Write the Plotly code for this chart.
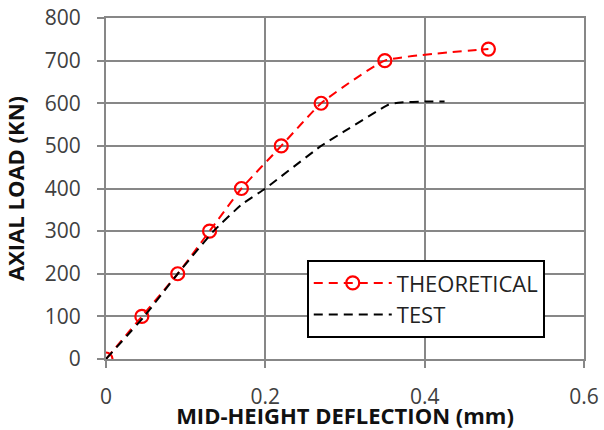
import plotly.graph_objects as go

theo_x = [0, 0.045, 0.09, 0.13, 0.17, 0.22, 0.27, 0.35, 0.48]
theo_y = [0, 100, 200, 300, 400, 500, 600, 700, 727]

test_x = [0, 0.048, 0.09, 0.135, 0.17, 0.2, 0.27, 0.3, 0.355, 0.37, 0.4, 0.425]
test_y = [0, 100, 200, 300, 362, 400, 500, 535, 597, 602, 604, 604]

x_ticks = [0, 0.2, 0.4, 0.6]
x_labels = ["0", "0.2", "0.4", "0.6"]
y_ticks = [0, 100, 200, 300, 400, 500, 600, 700, 800]

fig = go.Figure()
fig.add_trace(go.Scatter(
    x=theo_x, y=theo_y, name="THEORETICAL", mode="lines+markers",
    line=dict(color="#ff0000", width=2, dash="9px,6px", shape="spline", smoothing=0.4),
    marker=dict(symbol="circle-open", size=13, color="#ff0000", line=dict(width=2.2)),
))
fig.add_trace(go.Scatter(
    x=test_x, y=test_y, name="TEST", mode="lines",
    line=dict(color="#000000", width=2, dash="9px,6px", shape="spline", smoothing=0.4),
))

grid = "#878787"
fig.update_layout(
    width=604, height=430,
    margin=dict(l=106, r=20, t=18, b=71, autoexpand=False),
    paper_bgcolor="white", plot_bgcolor="white",
    font=dict(family="Open Sans, Liberation Sans, sans-serif", color="#404040", size=21),
    showlegend=True,
    legend=dict(
        x=0.42, y=0.29, xanchor="left", yanchor="top",
        bgcolor="white", bordercolor="black", borderwidth=2,
        font=dict(size=22, color="#222222"),
        tracegroupgap=0, itemwidth=78,
    ),
    xaxis=dict(
        range=[0, 0.6], tickvals=x_ticks, ticktext=x_labels,
        automargin=False, ticklabeloverflow="allow",
        showgrid=True, gridcolor=grid, gridwidth=2,
        showline=True, linecolor=grid, linewidth=2, mirror=True,
        ticks="outside", ticklen=7, tickcolor=grid, tickwidth=2,
        ticklabelstandoff=11,
        zeroline=False,
        title=dict(text="<b>MID-HEIGHT DEFLECTION (mm)</b>", standoff=9,
                   font=dict(size=22, color="#111111")),
    ),
    yaxis=dict(
        range=[0, 800], tickvals=y_ticks,
        automargin=False, ticklabeloverflow="allow",
        showgrid=True, gridcolor=grid, gridwidth=2,
        showline=True, linecolor=grid, linewidth=2, mirror=True,
        ticks="outside", ticklen=7, tickcolor=grid, tickwidth=2,
        ticklabelstandoff=12,
        zeroline=False,
        title=dict(text="<b>AXIAL LOAD (KN)</b>", standoff=30,
                   font=dict(size=22, color="#111111")),
    ),
)

fig.write_html("out.html", config={"displayModeBar": False},
               post_script="document.body.style.margin='0';")
